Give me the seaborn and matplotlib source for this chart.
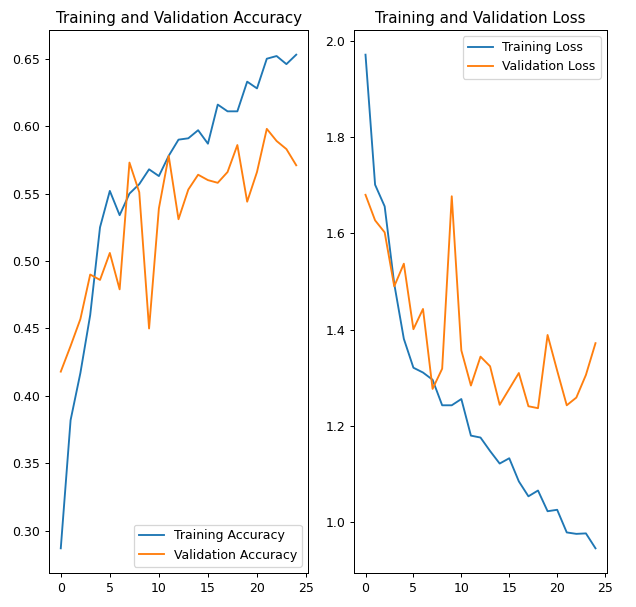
import numpy as np
import matplotlib
matplotlib.use("Agg")
import matplotlib.pyplot as plt
import seaborn as sns

# --- data --- #
epochs = np.arange(25)

train_acc = [0.287, 0.382, 0.417, 0.460, 0.525, 0.552, 0.534, 0.550, 0.557, 0.568,
             0.563, 0.578, 0.590, 0.591, 0.597, 0.587, 0.616, 0.611, 0.611, 0.633,
             0.628, 0.650, 0.652, 0.646, 0.653]
val_acc = [0.418, 0.437, 0.457, 0.490, 0.486, 0.506, 0.479, 0.573, 0.551, 0.450,
           0.539, 0.578, 0.531, 0.553, 0.564, 0.560, 0.558, 0.566, 0.586, 0.544,
           0.566, 0.598, 0.589, 0.583, 0.571]

train_loss = [1.971, 1.701, 1.656, 1.495, 1.381, 1.321, 1.311, 1.296, 1.243, 1.243,
              1.256, 1.180, 1.176, 1.148, 1.122, 1.133, 1.085, 1.054, 1.066, 1.023,
              1.026, 0.979, 0.976, 0.977, 0.946]
val_loss = [1.680, 1.627, 1.602, 1.490, 1.537, 1.401, 1.443, 1.277, 1.319, 1.677,
            1.357, 1.284, 1.344, 1.324, 1.244, 1.277, 1.310, 1.241, 1.237, 1.389,
            1.315, 1.243, 1.259, 1.306, 1.372]

# --- figure (rendered a bit larger than 72 dpi, like the reference) --- #
W, H = 636, 607
DPI = 90
fig = plt.figure(figsize=(W / DPI, H / DPI), dpi=DPI)
fig.patch.set_facecolor("white")

ax1 = fig.add_axes([49 / W, (H - 573) / H, 259 / W, 543 / H])
ax2 = fig.add_axes([354 / W, (H - 573) / H, 253 / W, 543 / H])

blue, orange = "#1f77b4", "#ff7f0e"

# accuracy #
sns.lineplot(x=epochs, y=train_acc, ax=ax1, color=blue, label="Training Accuracy")
sns.lineplot(x=epochs, y=val_acc, ax=ax1, color=orange, label="Validation Accuracy")
ax1.legend(loc="lower right")
ax1.set_title("Training and Validation Accuracy")
ax1.set_xticks([0, 5, 10, 15, 20, 25])

# loss #
sns.lineplot(x=epochs, y=train_loss, ax=ax2, color=blue, label="Training Loss")
sns.lineplot(x=epochs, y=val_loss, ax=ax2, color=orange, label="Validation Loss")
ax2.legend(loc="upper right")
ax2.set_title("Training and Validation Loss")
ax2.set_xticks([0, 5, 10, 15, 20, 25])
ax2.set_yticks([1.0, 1.2, 1.4, 1.6, 1.8, 2.0])

fig.savefig("out.png", dpi=DPI, facecolor="white")
